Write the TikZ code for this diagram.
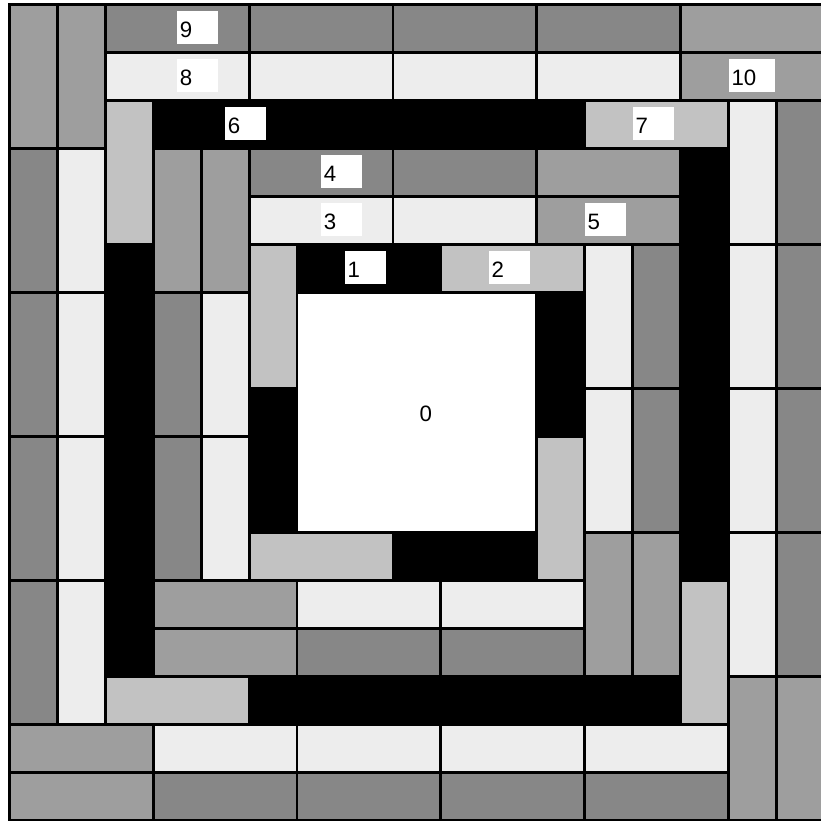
\documentclass[tikz,border=0pt]{standalone}
\usepackage{fontspec}
\setmainfont{Liberation Sans}

\definecolor{tiledark}{gray}{0.53}
\definecolor{tilemid}{gray}{0.62}
\definecolor{tilestripe}{gray}{0.76}
\definecolor{tilelight}{gray}{0.93}

\newcommand*{\gmin}{0}
\newcommand*{\gmax}{17}

\begin{document}
\begin{tikzpicture}
[
	x=1cm,
	y=-1cm,
	tile/.style={draw=black,line width=1.75pt},
	numtag/.style={anchor=west,fill=white,inner xsep=0.05cm,inner ysep=0pt,
		text width=0.75cm,align=left,text height=0.56cm,text depth=0.13cm,
		font=\fontsize{13.2}{16}\selectfont}
]

	\useasboundingbox (-0.19,-0.09) rectangle (16.92,\gmax);

	% centre square
	\draw[tile,fill=white] (6,6) rectangle ++(5,5);

	% ring 1
	\foreach \c/\r/\w/\h/\col in {6/5/3/1/black,9/5/3/1/tilestripe,11/6/1/3/black,11/9/1/3/tilestripe,
		8/11/3/1/black,5/11/3/1/tilestripe,5/8/1/3/black,5/5/1/3/tilestripe} {
		\draw[tile,fill=\col] (\c,\r) rectangle ++(\w,\h);
	}

	% ring 2
	\foreach \x in {5,8} {
		\draw[tile,fill=tiledark] (\x,3) rectangle ++(3,1);
		\draw[tile,fill=tilelight] (\x,4) rectangle ++(3,1);
	}
	\foreach \y in {5,8} {
		\draw[tile,fill=tiledark] (13,\y) rectangle ++(1,3);
		\draw[tile,fill=tilelight] (12,\y) rectangle ++(1,3);
	}
	\foreach \x in {6,9} {
		\draw[tile,fill=tiledark] (\x,13) rectangle ++(3,1);
		\draw[tile,fill=tilelight] (\x,12) rectangle ++(3,1);
	}
	\foreach \y in {6,9} {
		\draw[tile,fill=tiledark] (3,\y) rectangle ++(1,3);
		\draw[tile,fill=tilelight] (4,\y) rectangle ++(1,3);
	}
	\foreach \c/\r/\w/\h in {11/3/3/1,11/4/3/1,12/11/1/3,13/11/1/3,3/12/3/1,3/13/3/1,3/3/1/3,4/3/1/3} {
		\draw[tile,fill=tilemid] (\c,\r) rectangle ++(\w,\h);
	}

	% ring 3
	\foreach \c/\r/\w/\h/\col in {3/2/3/1/black,6/2/3/1/black,9/2/3/1/black,12/2/3/1/tilestripe,
		14/3/1/3/black,14/6/1/3/black,14/9/1/3/black,14/12/1/3/tilestripe,
		11/14/3/1/black,8/14/3/1/black,5/14/3/1/black,2/14/3/1/tilestripe,
		2/11/1/3/black,2/8/1/3/black,2/5/1/3/black,2/2/1/3/tilestripe} {
		\draw[tile,fill=\col] (\c,\r) rectangle ++(\w,\h);
	}

	% ring 4
	\foreach \x in {2,5,8,11} {
		\draw[tile,fill=tiledark] (\x,0) rectangle ++(3,1);
		\draw[tile,fill=tilelight] (\x,1) rectangle ++(3,1);
	}
	\foreach \y in {2,5,8,11} {
		\draw[tile,fill=tiledark] (16,\y) rectangle ++(1,3);
		\draw[tile,fill=tilelight] (15,\y) rectangle ++(1,3);
	}
	\foreach \x in {3,6,9,12} {
		\draw[tile,fill=tiledark] (\x,16) rectangle ++(3,1);
		\draw[tile,fill=tilelight] (\x,15) rectangle ++(3,1);
	}
	\foreach \y in {3,6,9,12} {
		\draw[tile,fill=tiledark] (0,\y) rectangle ++(1,3);
		\draw[tile,fill=tilelight] (1,\y) rectangle ++(1,3);
	}
	\foreach \c/\r/\w/\h in {14/0/3/1,14/1/3/1,15/14/1/3,16/14/1/3,0/15/3/1,0/16/3/1,0/0/1/3,1/0/1/3} {
		\draw[tile,fill=tilemid] (\c,\r) rectangle ++(\w,\h);
	}

	% number tags
	\foreach \n/\x/\y in {0/8.5/8,1/7/5,2/10/5,3/6.5/4,4/6.5/3,5/12/4,6/4.5/2,7/13/2,8/3.5/1,9/3.5/0} {
		\node[numtag] (t\n) at (\x,\y+0.485) {\n};
	}
	\node[numtag,text width=0.86cm] (t10) at (15,1.485) {10};

\end{tikzpicture}
\end{document}
